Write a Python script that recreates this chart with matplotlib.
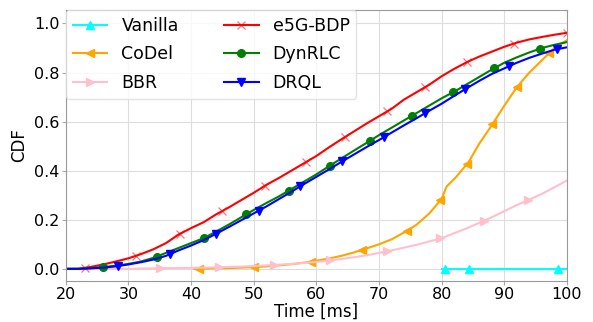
import numpy as np
import matplotlib
matplotlib.use('Agg')
import matplotlib.pyplot as plt
from matplotlib.lines import Line2D

# Kurva CDF
x_red = [20, 22, 24, 26, 28, 30, 32, 34, 36, 38, 40, 42, 44, 46, 48, 50, 52, 54, 56, 58, 60,
         62, 64, 66, 68, 70, 72, 74, 76, 78, 80, 82, 84, 86, 88, 90, 92, 94, 96, 98, 100]
y_red = [0, 0, 0.008, 0.018, 0.03, 0.043, 0.06, 0.08, 0.105, 0.14, 0.166, 0.19, 0.222, 0.25,
         0.28, 0.31, 0.342, 0.37, 0.40, 0.43, 0.46, 0.495, 0.528, 0.56, 0.592, 0.622, 0.652,
         0.69, 0.72, 0.75, 0.785, 0.815, 0.842, 0.865, 0.885, 0.905, 0.922, 0.935, 0.945,
         0.954, 0.962]

x_green = x_red
y_green = [0, 0, 0.003, 0.007, 0.013, 0.02, 0.03, 0.045, 0.065, 0.085, 0.105, 0.125, 0.152,
           0.18, 0.21, 0.24, 0.268, 0.295, 0.325, 0.355, 0.385, 0.418, 0.45, 0.482, 0.513,
           0.545, 0.575, 0.605, 0.635, 0.665, 0.695, 0.722, 0.752, 0.782, 0.812, 0.84, 0.862,
           0.882, 0.9, 0.913, 0.924]

x_blue = x_red
y_blue = [0, 0, 0.002, 0.005, 0.01, 0.018, 0.027, 0.038, 0.053, 0.075, 0.095, 0.117, 0.143,
          0.17, 0.198, 0.226, 0.254, 0.284, 0.314, 0.345, 0.375, 0.405, 0.436, 0.466, 0.496,
          0.525, 0.555, 0.585, 0.614, 0.644, 0.673, 0.705, 0.736, 0.766, 0.794, 0.817, 0.84,
          0.86, 0.877, 0.893, 0.903]

x_orange = [40.5, 42, 44, 46, 48, 50, 52, 54, 56, 58, 60, 62, 64, 66, 68, 70, 72, 74, 76, 78,
            80, 80.8, 82.2, 84.3, 86, 88, 90, 92, 94, 96, 98, 100]
y_orange = [0, 0.001, 0.002, 0.003, 0.005, 0.007, 0.01, 0.014, 0.019, 0.025, 0.033, 0.042,
            0.053, 0.067, 0.083, 0.1, 0.12, 0.148, 0.18, 0.225, 0.285, 0.336, 0.371, 0.435,
            0.51, 0.585, 0.665, 0.74, 0.8, 0.85, 0.9, 0.932]

x_pink = [20, 30, 34, 40, 44, 48, 52, 56, 60, 64, 68, 72, 76, 80, 84, 88, 92, 96, 100]
y_pink = [0, 0, 0.002, 0.004, 0.006, 0.009, 0.014, 0.02, 0.028, 0.04, 0.055, 0.075, 0.098,
          0.125, 0.165, 0.21, 0.26, 0.305, 0.36]

x_cyan = [80, 100]
y_cyan = [0, 0]

# Posisi marker (sumbu x)
m_red = [23, 31.2, 38.2, 44.9, 51.8, 58.4, 64.6, 71.3, 77.4, 84.1, 91.5, 100]
m_green = [26, 34.5, 42, 48.8, 55.6, 62.1, 68.5, 75.2, 81.8, 88.4, 95.7]
m_blue = [28.4, 36.7, 44, 50.8, 57.4, 64.1, 70.8, 77.4, 83.8, 90.8, 98.4]
m_orange = [41.2, 50, 59.1, 67.3, 74.5, 79.8, 84.1, 88.1, 92.1, 97.2]
m_pink = [35, 44.4, 53.2, 62.2, 71.3, 79.8, 86.7, 93.8]
m_cyan = [80.5, 84.4, 98.5]

series = [
    ('Vanilla', x_cyan, y_cyan, m_cyan, 'cyan', '^'),
    ('CoDel', x_orange, y_orange, m_orange, 'orange', '<'),
    ('BBR', x_pink, y_pink, m_pink, 'pink', '>'),
    ('e5G-BDP', x_red, y_red, m_red, 'red', 'x'),
    ('DynRLC', x_green, y_green, m_green, 'green', 'o'),
    ('DRQL', x_blue, y_blue, m_blue, 'blue', 'v'),
]

fig = plt.figure(figsize=(5.93, 3.22), dpi=100)
ax = fig.add_axes([0.111, 0.127, 0.845, 0.842])

leg_handles = []
for name, xs, ys, mx, col, mk in series:
    # marker x dibuat tipis & pudar seperti aslinya
    kw = dict(markeredgewidth=0.9, markeredgecolor=(1, 0, 0, 0.55)) if mk == 'x' else {}
    ax.plot(xs, ys, color=col, linewidth=1.5)
    my = np.interp(mx, xs, ys)
    ax.plot(mx, my, linestyle='none', marker=mk, color=col, markersize=5.5, **kw)
    leg_handles.append(Line2D([], [], color=col, linewidth=1.5, marker=mk,
                              markersize=5.5, **kw))

ax.set_xlim(20, 100)
ax.set_ylim(-0.05, 1.055)
ax.set_xticks([20, 30, 40, 50, 60, 70, 80, 90, 100])
ax.set_yticks([0.0, 0.2, 0.4, 0.6, 0.8, 1.0])
ax.set_xlabel('Time [ms]', fontsize=12, labelpad=0)
ax.set_ylabel('CDF', fontsize=12, labelpad=4)
ax.grid(True, color='#dddddd', linewidth=0.8)
ax.set_axisbelow(True)
for s in ax.spines.values():
    s.set_color('#999999')
ax.tick_params(colors='#aaaaaa', labelcolor='black', length=3, pad=1.5, labelsize=11.5)

ax.legend(leg_handles, [s[0] for s in series], ncol=2, loc='upper left', borderaxespad=0,
          fontsize=12.5, edgecolor='#dddddd', columnspacing=2.6, labelspacing=0.6)

plt.savefig('out.png')
plt.close()
